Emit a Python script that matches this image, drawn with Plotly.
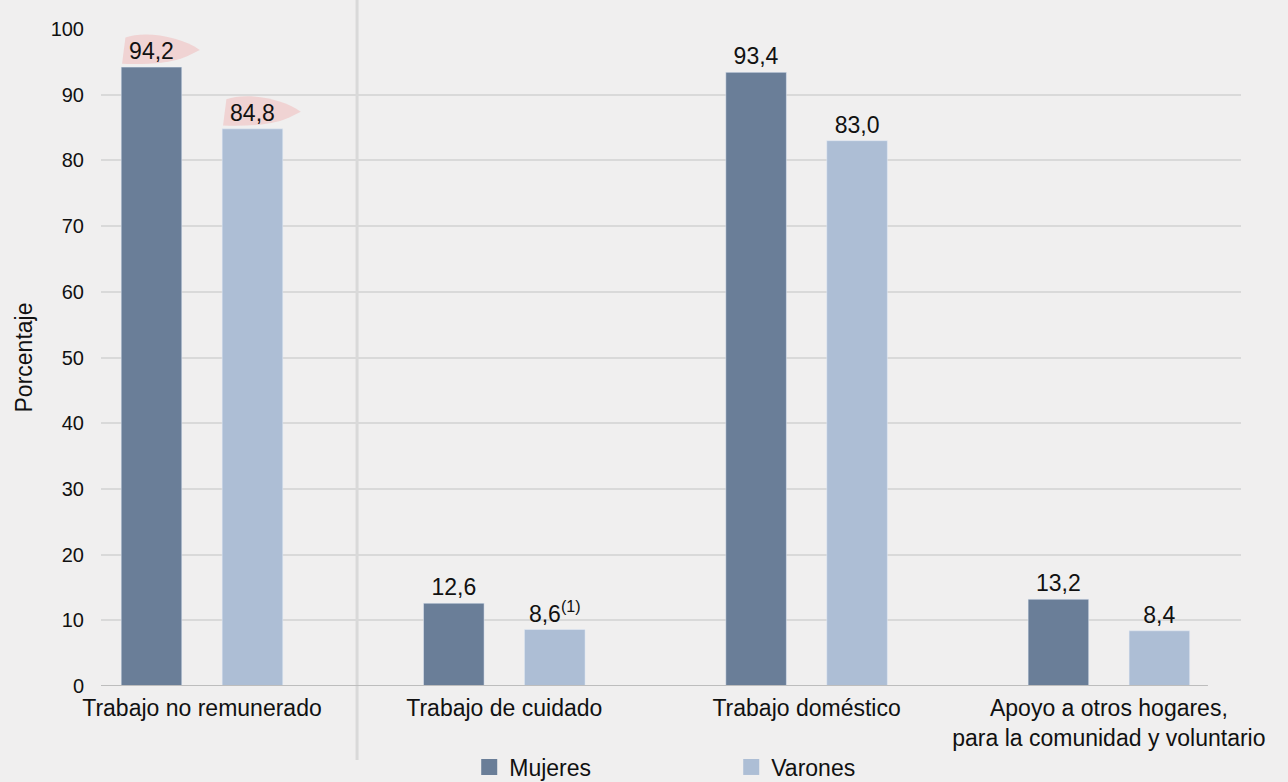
import plotly.graph_objects as go

categories = ["Trabajo no remunerado", "Trabajo de cuidado", "Trabajo doméstico",
              "Apoyo a otros hogares,<br>para la comunidad y voluntario"]
mujeres = [94.2, 12.6, 93.4, 13.2]
varones = [84.8, 8.6, 83.0, 8.4]
varones_notes = ["", "<sup>(1)</sup>", "", ""]
highlighted = [0]  # category indices whose labels carry a pink brush highlight
y_ticks = [0, 10, 20, 30, 40, 50, 60, 70, 80, 90, 100]

COL_M = "#6a7e98"
COL_V = "#adbed5"
BG = "#f0efef"
FONT = "Liberation Sans, Arial, Helvetica, sans-serif"
BARGAP, GROUPGAP = 0.332, 0.4


def fmt(v):
    return f"{v:.1f}".replace(".", ",")


fig = go.Figure()
fig.add_trace(go.Bar(
    x=categories, y=mujeres, name="Mujeres", marker_color=COL_M,
    text=[fmt(v) for v in mujeres], textposition="outside",
    textfont=dict(size=23, color="#111111"), cliponaxis=False, showlegend=False,
))
fig.add_trace(go.Bar(
    x=categories, y=varones, name="Varones", marker_color=COL_V,
    text=[fmt(v) + n for v, n in zip(varones, varones_notes)], textposition="outside",
    textfont=dict(size=23, color="#111111"), cliponaxis=False, showlegend=False,
))
for name, col in [("Mujeres", COL_M), ("Varones", COL_V)]:
    fig.add_trace(go.Scatter(
        x=[None], y=[None], mode="markers", name=name,
        marker=dict(symbol="square", size=16, color=col), showlegend=True,
    ))

# pink brush highlights behind the labels (positions derived from the bar geometry)
slot = (1 - BARGAP) / 2
bar_w = slot * (1 - GROUPGAP)
for i in highlighted:
    for k, vals in enumerate([mujeres, varones]):
        v = vals[i]
        center = i - slot / 2 + k * slot
        bl = center - bar_w / 2
        path = (f"M {bl+0.003},{v+0.5} L {bl+0.014},{v+4.5} "
                f"C {bl+0.08},{v+5.6} {bl+0.20},{v+4.6} {bl+0.26},{v+2.6} "
                f"L {bl+0.22},{v+1.7} C {bl+0.16},{v+0.5} {bl+0.08},{v+0.4} {bl+0.003},{v+0.5} Z")
        fig.add_shape(type="path", xref="x", yref="y", path=path,
                      fillcolor="rgba(240,165,165,0.38)", line=dict(width=0), layer="below")

# divider between the total and its components
fig.add_shape(type="line", xref="x", yref="paper", x0=0.513, x1=0.513, y0=-0.1126, y1=1.05,
              line=dict(color="#d9d9d9", width=3), layer="below")
# baseline (shorter than the gridlines)
fig.add_shape(type="line", xref="paper", yref="y", x0=0, x1=0.971, y0=0, y1=0,
              line=dict(color="#bdbdbd", width=2), layer="above")

fig.update_layout(
    width=1288, height=782,
    margin=dict(l=101, r=47, t=29, b=96, autoexpand=False),
    paper_bgcolor=BG, plot_bgcolor=BG,
    font=dict(family=FONT, size=23, color="#111111"),
    barmode="group", bargap=BARGAP, bargroupgap=GROUPGAP,
    showlegend=True,
    legend=dict(orientation="h", x=0.323, xanchor="left", y=-0.1233, yanchor="middle",
                entrywidth=217, entrywidthmode="pixels",
                font=dict(size=23, color="#111111"), bgcolor="rgba(0,0,0,0)",
                itemclick=False, itemdoubleclick=False),
    xaxis=dict(range=[-0.334, 3.437], showgrid=False, zeroline=False, showline=False,
               automargin=False, tickfont=dict(size=23, color="#111111"), ticks="",
               ticklabelstandoff=6),
    yaxis=dict(range=[0, 100], tickvals=y_ticks, showgrid=True, gridcolor="#d9d9d9",
               gridwidth=2, zeroline=False, showline=False, ticks="", automargin=False,
               tickfont=dict(size=20, color="#111111"), ticklabelstandoff=16,
               title=dict(text="Porcentaje", font=dict(size=23, color="#111111"), standoff=11)),
)

fig.write_html("out.html", config={"displayModeBar": False},
               post_script="document.body.style.margin='0';document.body.style.background='#f0efef';")
